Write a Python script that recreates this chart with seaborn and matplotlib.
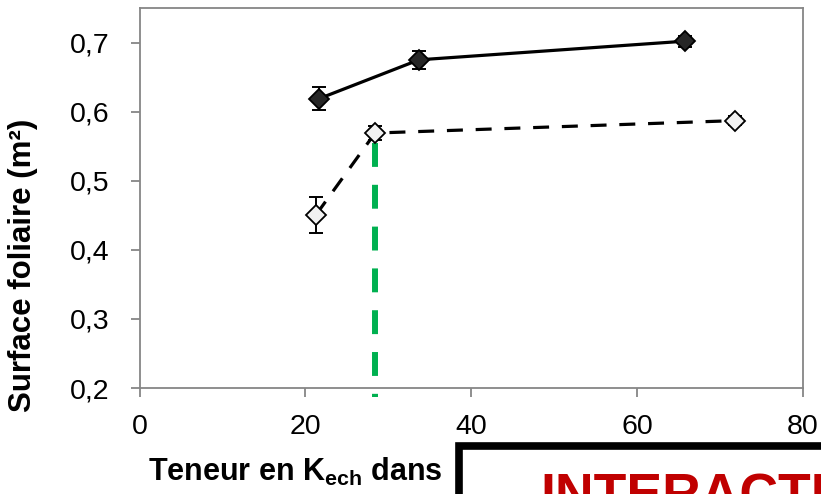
import matplotlib
matplotlib.use("Agg")
import matplotlib.pyplot as plt
import seaborn as sns
import pandas as pd
from matplotlib.patches import Rectangle

# Leaf area vs exchangeable K content
k_filled = [21.7, 33.7, 65.8]
area_filled = [0.619, 0.675, 0.702]
err_filled = [0.017, 0.013, 0.008]

k_open = [21.3, 28.4, 71.8]
area_open = [0.451, 0.569, 0.587]
err_open = [0.026, 0.010, 0.006]

k_threshold = 28.4
threshold_top = 0.569

x_ticks = [0, 20, 40, 60, 80]
y_ticks = [0.2, 0.3, 0.4, 0.5, 0.6, 0.7]
y_ticklabels = ["0,2", "0,3", "0,4", "0,5", "0,6", "0,7"]

sns.set_style("white")
plt.rcParams["font.family"] = ["Liberation Sans", "DejaVu Sans"]
plt.rcParams["mathtext.fontset"] = "custom"
plt.rcParams["mathtext.bf"] = "Liberation Sans:bold"
plt.rcParams["mathtext.rm"] = "Liberation Sans:bold"
plt.rcParams["text.color"] = "black"
plt.rcParams["axes.labelcolor"] = "black"

W, H = 821, 494
fig = plt.figure(figsize=(W / 100, H / 100), dpi=100)
ax = fig.add_axes([139.5 / W, 1 - 388 / H, (803 - 139.5) / W, (388 - 8) / H])

df_f = pd.DataFrame({"k": k_filled, "area": area_filled})
df_o = pd.DataFrame({"k": k_open, "area": area_open})

# threshold marker line (green, dashed) drawn first so points sit on top
ax.plot([k_threshold, k_threshold], [threshold_top - 0.014, 0.187],
        color="#00B050", lw=4.3, dashes=(4, 3), solid_capstyle="butt",
        dash_capstyle="butt", clip_on=False, zorder=2)

ax.errorbar(k_filled, area_filled, yerr=err_filled, fmt="none",
            ecolor="black", elinewidth=1.4, capsize=5, capthick=1.4, zorder=3)
ax.errorbar(k_open, area_open, yerr=err_open, fmt="none",
            ecolor="black", elinewidth=1.4, capsize=5, capthick=1.4, zorder=3)

sns.lineplot(data=df_f, x="k", y="area", ax=ax, color="black", lw=2.3,
             marker="D", markersize=10, markerfacecolor="#262626",
             markeredgecolor="black", markeredgewidth=1.3, zorder=4)
sns.lineplot(data=df_o, x="k", y="area", ax=ax, color="black", lw=2.3,
             marker="D", markersize=10, markerfacecolor="#F2F2F2",
             markeredgecolor="black", markeredgewidth=1.3, zorder=4)
ax.lines[-1].set_dashes((5, 4))
ax.lines[-1].set_dash_capstyle("butt")

ax.set_xlim(0, 80)
ax.set_ylim(0.2, 0.75)
ax.set_xticks(x_ticks)
ax.set_xticklabels([str(v) for v in x_ticks])
ax.set_yticks(y_ticks)
ax.set_yticklabels(y_ticklabels)
ax.set_xlabel("")
ax.set_ylabel("Surface foliaire (m²)", fontsize=22.5, fontweight="bold")
ax.yaxis.set_label_coords(-0.153, 0.323)

for s in ax.spines.values():
    s.set_color("#868686")
    s.set_linewidth(1.3)
ax.tick_params(axis="both", which="both", direction="out", length=6.5, width=1.3,
               color="#868686", labelsize=20.5, labelcolor="black",
               left=True, bottom=True)
ax.tick_params(axis="y", pad=15)
ax.tick_params(axis="x", pad=12)

fig.text(148 / W, 1 - 481 / H, r"Teneur en K$_{\mathbf{ech}}$ dans", fontsize=22,
         fontweight="bold", ha="left", va="baseline")

# overlaid caption box, cropped at the figure edge
box = Rectangle((459 / W, -0.1), 0.6, 1 - 446 / H + 0.1, transform=fig.transFigure,
                facecolor="white", edgecolor="black", lw=5.5, zorder=10)
fig.add_artist(box)
fig.text(540 / W, 1 - 473 / H, "INTERACTION", fontsize=38.5, fontweight="bold",
         color="#C00000", ha="left", va="top", zorder=11)

fig.savefig("out.png", dpi=100)
